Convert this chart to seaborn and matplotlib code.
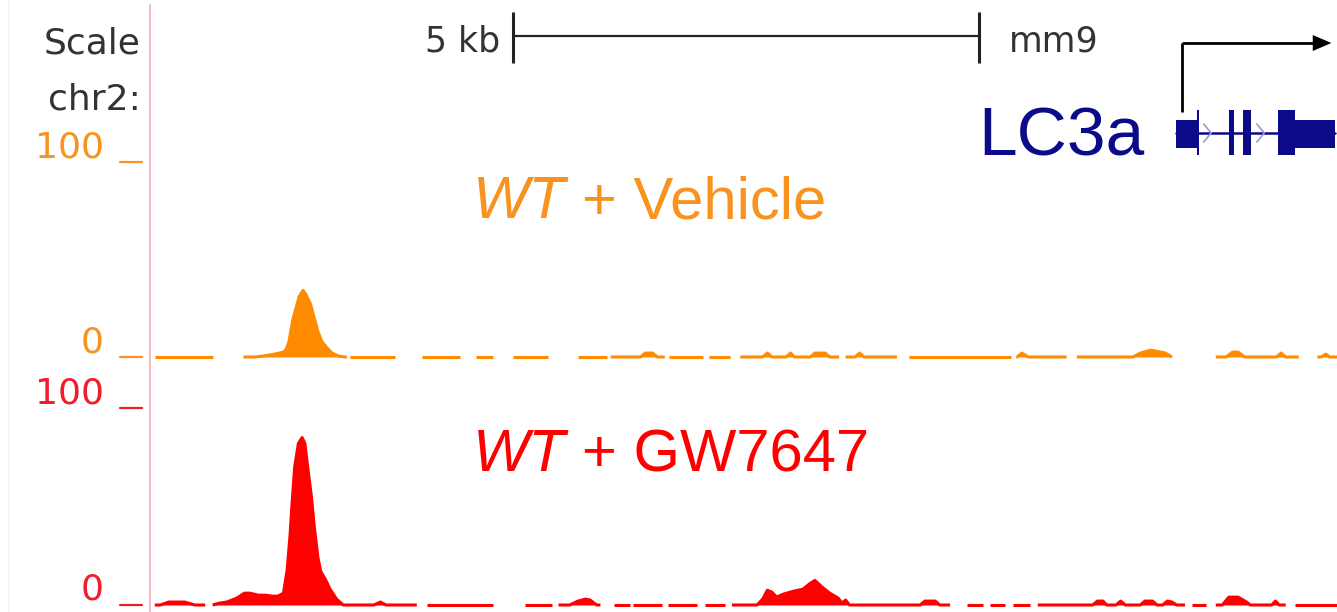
import numpy as np
import pandas as pd
import matplotlib
matplotlib.use("Agg")
import matplotlib.pyplot as plt
from matplotlib.patches import Rectangle, Polygon
import seaborn as sns

# ---- window (kb from left edge of the browser image) ----
window_kb = 12.71

# ---- WT + Vehicle track: covered intervals and signal profile ----
veh_block_start = [0.03, 0.98, 2.12, 2.90, 3.47, 3.87, 4.57, 4.92, 5.55, 5.97, 6.31,
                   7.44, 8.12, 9.27, 9.92, 11.41, 12.50]
veh_block_end = [0.65, 2.09, 2.61, 3.30, 3.66, 4.25, 4.88, 5.50, 5.91, 6.20, 7.37,
                 7.99, 9.21, 9.81, 10.94, 12.30, 12.71]
veh_kb = [1.11, 1.19, 1.32, 1.41, 1.44, 1.47, 1.51, 1.55, 1.58, 1.62, 1.65, 1.70, 1.74,
          1.78, 1.82, 1.88, 1.93, 2.00, 2.07,
          5.24, 5.29, 5.37, 5.42,
          6.55, 6.60, 6.65,
          6.80, 6.85, 6.89,
          7.06, 7.11, 7.22, 7.27,
          7.54, 7.59, 7.64,
          9.28, 9.33, 9.40,
          10.52, 10.60, 10.71, 10.77, 10.87, 10.94,
          11.52, 11.59, 11.65, 11.72,
          12.06, 12.11, 12.16,
          12.54, 12.59, 12.63]
veh_val = [0, 0.5, 1.5, 2.5, 4, 8, 19, 26, 31, 34, 32, 27, 20,
           13, 8, 4.5, 2, 0.5, 0,
           0, 2, 2, 0,
           0, 2, 0,
           0, 2, 0,
           0, 2, 2, 0,
           0, 2, 0,
           0, 2, 0,
           0, 2, 3.5, 3, 2, 0,
           0, 2.5, 2.5, 0,
           0, 2, 0,
           0, 1.5, 0]

# ---- WT + GW7647 track ----
gw_block_start = [0.03, 0.65, 2.95, 4.00, 4.36, 4.95, 5.16, 5.53, 5.93, 6.22, 8.74,
                  8.99, 9.23, 9.50, 11.16, 11.41, 12.26]
gw_block_end = [0.57, 2.84, 3.66, 4.29, 4.81, 5.13, 5.47, 5.85, 6.15, 8.56, 8.91,
                9.15, 9.42, 11.08, 11.30, 12.16, 12.71]
gw_kb = [0.09, 0.18, 0.35, 0.46,
         0.65, 0.73, 0.80, 0.91, 0.99, 1.05, 1.14, 1.21, 1.29, 1.35, 1.41, 1.45, 1.48,
         1.50, 1.53, 1.57, 1.61, 1.64, 1.67, 1.71, 1.74, 1.78, 1.81, 1.86, 1.91, 1.98, 2.05,
         2.38, 2.45, 2.51,
         4.48, 4.57, 4.65, 4.70, 4.77,
         6.49, 6.55, 6.60, 6.65, 6.70, 6.77, 6.88, 6.98, 7.06, 7.11, 7.19, 7.27, 7.36,
         7.40, 7.44, 7.48,
         8.24, 8.29, 8.40, 8.45,
         10.09, 10.14, 10.20, 10.24,
         10.34, 10.39, 10.44,
         10.60, 10.65, 10.73, 10.78,
         10.84, 10.89, 10.94, 10.99,
         11.48, 11.55, 11.65, 11.74, 11.78,
         12.01, 12.05, 12.09]
gw_val = [0, 1.5, 1.5, 0,
          0, 1, 1.5, 3.5, 6, 6, 5, 5, 4.5, 4.5, 6, 18, 35,
          50, 70, 82, 85, 82, 70, 55, 40, 24, 17, 13, 8, 3, 0,
          0, 1.5, 0,
          0, 2, 3, 2.5, 0,
          0, 3, 7.5, 6.5, 4, 5.5, 7, 8, 11, 12.5, 9, 6, 3.5,
          1, 2.5, 0,
          0, 2, 2, 0,
          0, 2, 2, 0,
          0, 2, 0,
          0, 2, 2, 0,
          0, 2, 1.5, 0,
          0, 4, 4, 1.5, 0,
          0, 2, 0]

# ---- LC3a gene model ----
exon_start = [10.98, 11.21, 11.55, 11.70, 12.08, 12.26]
exon_end = [11.21, 11.23, 11.61, 11.79, 12.26, 12.69]
exon_tall = [False, True, True, True, True, False]

scalebar_kb = [3.87, 8.87]

# ---- colours ----
orange = "#ff8c00"
orange_txt = "#f7931e"
red = "#ff0000"
red_txt = "#f01e2c"
navy = "#0b0b8a"
grey = "#333333"

W, H = 1337, 612
sns.set_theme(style="white")
plt.rcParams["font.family"] = ["DejaVu Sans"]

fig = plt.figure(figsize=(W / 100, H / 100), dpi=100)
fig.patch.set_facecolor("white")


def fx(px):
    return px / W


def fy(py):
    return 1 - py / H


left = 152 / W
width = (W - 152) / W


def track_frame(kb, val, starts, ends):
    pts = pd.DataFrame({
        "kb": list(kb) + list(starts) + list(ends),
        "val": list(val) + [0] * (len(starts) + len(ends)),
    })
    pts = pts.sort_values("kb", kind="stable").reset_index(drop=True)
    idx = np.searchsorted(np.array(starts), pts["kb"].values, side="right") - 1
    pts["block"] = idx
    return pts


def draw_track(y_zero, y_top, kb, val, starts, ends, color):
    ax = fig.add_axes([left, fy(y_zero), width, (y_zero - y_top) / H])
    ax.set_xlim(0, window_kb)
    ax.set_ylim(0, 100)
    ax.fill_between(kb, 0, val, color=color, lw=0)
    pts = track_frame(kb, val, starts, ends)
    sns.lineplot(data=pts, x="kb", y="val", units="block", estimator=None,
                 color=color, lw=2.2, ax=ax, legend=False)
    for ln in ax.lines:
        ln.set_clip_on(False)
        ln.set_solid_capstyle("butt")
    ax.set_axis_off()
    ax.patch.set_alpha(0)
    return ax


draw_track(357, 161, veh_kb, veh_val, veh_block_start, veh_block_end, orange)
draw_track(605, 408, gw_kb, gw_val, gw_block_start, gw_block_end, red)

# header layer: x in kb, y in pixels from top
hx = fig.add_axes([left, 0, width, 1])
hx.set_xlim(0, window_kb)
hx.set_ylim(H, 0)
hx.set_axis_off()
hx.patch.set_alpha(0)

# scale bar
hx.plot(scalebar_kb, [36, 36], color="#222222", lw=1.6, solid_capstyle="butt")
for xb in scalebar_kb:
    hx.plot([xb, xb], [12, 63], color="#222222", lw=2.2, solid_capstyle="butt")

# gene model
hx.plot([exon_start[0], exon_end[-1]], [133, 133], color=navy, lw=1.8)
for s, e, tall in zip(exon_start, exon_end, exon_tall):
    y0, y1 = (110, 155) if tall else (120, 148)
    hx.add_patch(Rectangle((s, y0), e - s, y1 - y0, color=navy, lw=0))
for cx in [11.33, 11.90]:
    hx.plot([cx - 0.05, cx + 0.03, cx - 0.05], [124, 133, 142], color="#9a9ad0", lw=1.2)

# transcription start arrow
hx.plot([11.05, 11.05], [112, 43], color="black", lw=2.0, solid_capstyle="butt")
hx.plot([11.05, 12.46], [43, 43], color="black", lw=2.0, solid_capstyle="butt")
hx.add_patch(Polygon([[12.45, 35], [12.45, 51], [12.65, 43]], closed=True,
                     color="black", lw=0))

# browser frame lines
fig.add_artist(plt.Line2D([fx(150), fx(150)], [fy(5), 0], color="#f9b4bd", lw=1.3))
fig.add_artist(plt.Line2D([fx(8), fx(8)], [fy(0), 0], color="#f1f1f1", lw=1.0))

# left-hand labels
lab = dict(fontsize=26, ha="right", va="baseline")
fig.text(fx(141), fy(53), "Scale", color=grey, **lab)
fig.text(fx(141), fy(109), "chr2:", color=grey, **lab)
fig.text(fx(104), fy(157), "100", color=orange_txt, **lab)
fig.text(fx(104), fy(353), "0", color=orange_txt, **lab)
fig.text(fx(104), fy(404), "100", color=red_txt, **lab)
fig.text(fx(104), fy(599), "0", color=red_txt, **lab)
for yy, c in [(162, orange_txt), (357, orange_txt), (408, red_txt), (605, red_txt)]:
    fig.add_artist(plt.Line2D([fx(120), fx(142)], [fy(yy), fy(yy)], color=c, lw=1.6))

fig.text(fx(500), fy(52), "5 kb", color=grey, ha="right", va="baseline", fontsize=25)
fig.text(fx(1009), fy(52), "mm9", color=grey, ha="left", va="baseline", fontsize=25)

# track titles
title = dict(fontsize=43, va="baseline", ha="left", family="Liberation Sans")
fig.text(fx(473), fy(218), "WT", color=orange_txt, style="italic", **title)
fig.text(fx(582), fy(218), "+ Vehicle", color=orange_txt, **title)
fig.text(fx(473), fy(471), "WT", color=red, style="italic", **title)
fig.text(fx(582), fy(471), "+ GW7647", color=red, **title)

fig.text(fx(978), fy(155), "LC3a", color=navy, ha="left", va="baseline",
         fontsize=50, family="Liberation Sans")

fig.savefig("out.png", dpi=100, facecolor="white")
